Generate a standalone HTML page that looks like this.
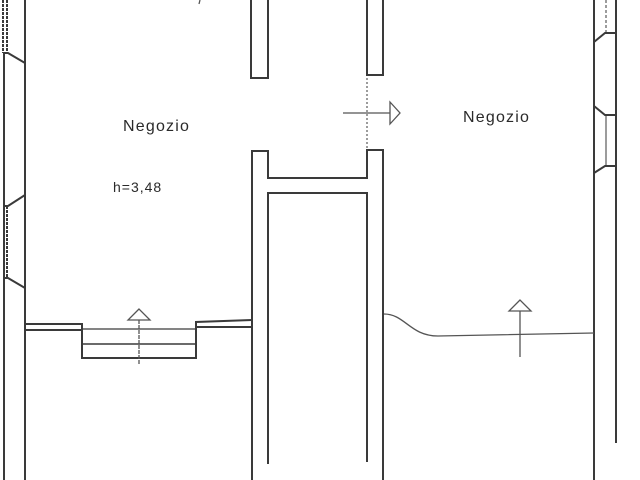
<!DOCTYPE html>
<html><head><meta charset="utf-8"><style>
html,body{margin:0;padding:0;background:#fff;}
svg{display:block}
text{font-family:"Liberation Sans",sans-serif;fill:#2a2a2a}
</style></head><body>
<svg width="640" height="480" viewBox="0 0 640 480" xmlns="http://www.w3.org/2000/svg">
<g fill="none" stroke="#3a3a3a" stroke-width="2">
<line x1="3" y1="0" x2="3" y2="53" stroke-dasharray="3 1"/>
<line x1="7" y1="0" x2="7" y2="53" stroke-dasharray="3 1"/>
<line x1="25" y1="0" x2="25" y2="480"/>
<polyline points="4,53 8,53 25,63"/>
<line x1="4" y1="53" x2="4" y2="480"/>
<polyline points="4,206 8,206 25,195"/>
<line x1="7" y1="206" x2="7" y2="278" stroke-dasharray="3 1"/>
<polyline points="4,278 8,278 25,288"/>
<polyline points="251,0 251,78 268,78 268,0"/>
<polyline points="367,0 367,75 383,75 383,0"/>
<line x1="367" y1="78" x2="367" y2="150" stroke-width="1" stroke-dasharray="2 2"/>
<polyline points="252,480 252,151 268,151 268,178 367,178 367,150 383,150 383,480"/>
<polyline points="268,464 268,193 367,193 367,462"/>
<polyline points="25,324 82,324 82,358 196,358 196,322 252,320"/>
<polyline points="25,330 82,330"/>
<line x1="196" y1="327" x2="252" y2="327"/>
<line x1="82" y1="329" x2="196" y2="329" stroke-width="1.2"/>
<line x1="82" y1="344" x2="196" y2="344" stroke-width="1.5"/>
<line x1="594" y1="0" x2="594" y2="480"/>
<line x1="616" y1="0" x2="616" y2="443"/>
<line x1="606" y1="0" x2="606" y2="33" stroke-width="1" stroke-dasharray="3 2"/>
<polyline points="594,42 605,33 616,33"/>
<polyline points="594,106 605,115 616,115"/>
<line x1="606" y1="115" x2="606" y2="166" stroke-width="1"/>
<polyline points="594,173 605,166 616,166"/>
</g>
<g fill="none" stroke="#555" stroke-width="1.3">
<line x1="343" y1="113" x2="390" y2="113"/>
<polygon points="390,102 390,124 400,113" fill="#fff"/>
<line x1="139" y1="320" x2="139" y2="365" stroke-dasharray="4 1"/>
<polygon points="139,309 128,320 150,320" fill="#fff"/>
<path d="M384,314 C405,314 410,336 438,336 L594,333"/>
<line x1="520" y1="311" x2="520" y2="357"/>
<polygon points="520,300 509,311 531,311" fill="#fff"/>
<line x1="200" y1="0" x2="199" y2="4"/>
</g>
<text x="123" y="131" font-size="16" letter-spacing="1.2">Negozio</text>
<text x="113" y="192" font-size="14" letter-spacing="1">h=3,48</text>
<text x="463" y="122" font-size="16" letter-spacing="1.2">Negozio</text>
</svg>
</body></html>
